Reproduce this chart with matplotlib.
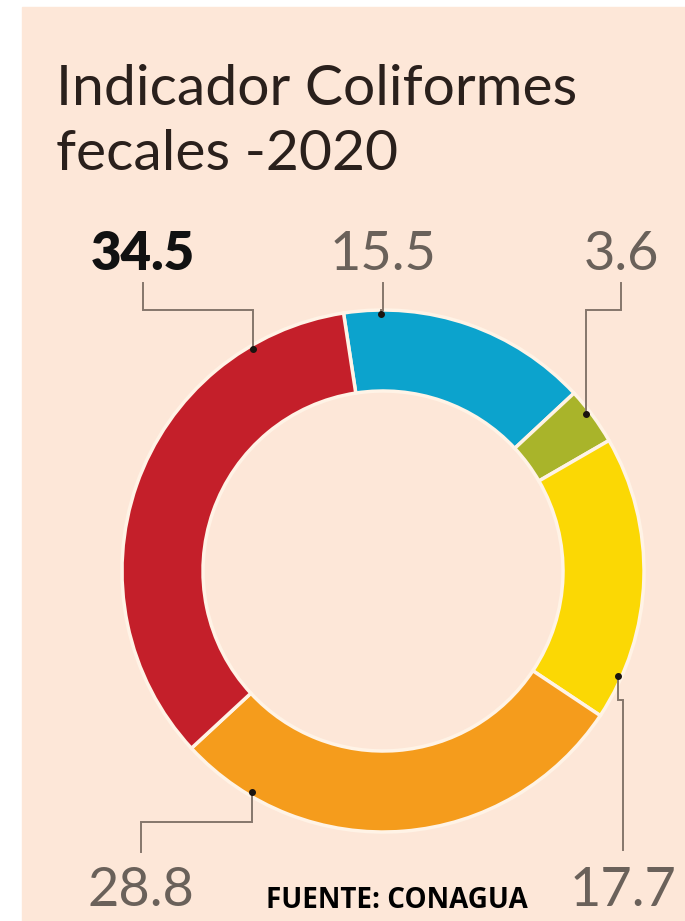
import matplotlib.pyplot as plt
import numpy as np

# datos (porcentajes)
etiquetas = ["15.5", "3.6", "17.7", "28.8", "34.5"]
valores = [15.5, 3.6, 17.7, 28.8, 34.5]
colores = ["#0CA3CD", "#A9B42A", "#FBD804", "#F59C1C", "#C41F2A"]

fondo = "#FDE7D8"
W, H = 685, 921

fig = plt.figure(figsize=(W / 100, H / 100), dpi=100)
fig.patch.set_facecolor("white")
ax = fig.add_axes([0, 0, 1, 1])

def Y(y):
    # pixel y (desde arriba) -> coordenada de datos
    return H - y

ax.add_patch(plt.Rectangle((22, 0), W - 22, H - 7, color=fondo, zorder=0))

cx, cy, R, ancho = 383, Y(571), 261, 81
wedges, _ = ax.pie(valores, colors=colores, startangle=98.7, counterclock=False,
                   radius=R, center=(cx, cy),
                   wedgeprops=dict(width=ancho, edgecolor="#FFF3E6", linewidth=2.5))
ax.set_xlim(0, W)
ax.set_ylim(0, H)
ax.set_aspect("auto")
ax.axis("off")

# posicion del punto dentro de cada segmento (fraccion en sentido horario)
frac_punto = [0.15, 0.40, 0.85, 0.84, 0.825]
# x de la etiqueta, y del codo, y final de la linea, y base del texto
x_etq = [383, 621, 623, 141, 143]
y_codo = [310, 310, 700, 822, 310]
y_fin = [283, 283, 850, 852, 283]
y_base = [270, 270, 906, 906, 270]

ln_color = "#85766C"
for i, w in enumerate(wedges):
    ang = np.radians(w.theta2 - frac_punto[i] * (w.theta2 - w.theta1))
    r = R - 4
    px = cx + r * np.cos(ang)
    py = cy + r * np.sin(ang)
    xs = [px, px, x_etq[i], x_etq[i]]
    ys = [py, Y(y_codo[i]), Y(y_codo[i]), Y(y_fin[i])]
    ax.plot(xs, ys, color=ln_color, lw=1.4, zorder=3, solid_joinstyle="miter")
    ax.plot(px, py, "o", color="#1a1410", ms=4, zorder=4)
    if etiquetas[i] == "34.5":
        ax.text(x_etq[i], Y(y_base[i]), etiquetas[i], ha="center", va="baseline",
                fontsize=38, fontweight="heavy", family="Lato", color="#111111")
    else:
        ax.text(x_etq[i], Y(y_base[i]), etiquetas[i], ha="center", va="baseline",
                fontsize=39, fontweight="normal", family="Lato", color="#6A615A")

# titulo
ax.text(56, Y(105), "Indicador Coliformes", ha="left", va="baseline",
        fontsize=41, family="Lato", color="#2A201C")
ax.text(56, Y(170), "fecales -2020", ha="left", va="baseline",
        fontsize=41, family="Lato", color="#2A201C")

ax.text(266, Y(908), "FUENTE: CONAGUA", ha="left", va="baseline",
        fontsize=20, fontweight="bold", family="Open Sans", color="black")

fig.savefig("out.png", dpi=100, facecolor=fig.get_facecolor())
